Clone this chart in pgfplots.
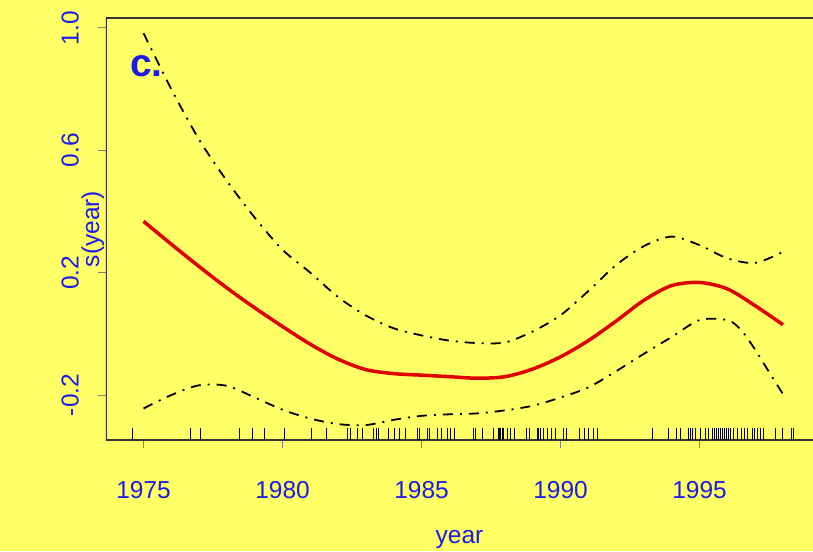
\documentclass[border=0pt]{standalone}
\usepackage{pgfplots}
\pgfplotsset{compat=1.18}
\usepackage{fontspec}
\setmainfont{Liberation Sans}
\definecolor{bgyel}{RGB}{255,255,102}
\definecolor{tblue}{RGB}{28,28,232}
\definecolor{cred}{RGB}{225,0,0}
\begin{document}
\begin{tikzpicture}
\fill[bgyel] (-106pt,-111pt) rectangle (707pt,440pt);
\path[use as bounding box] (-106pt,-111pt) rectangle (707pt,440pt);
\begin{axis}[
  at={(0,0)}, anchor=south west,
  scale only axis, width=707pt, height=422pt,
  xmin=1973.65, xmax=1999.08, ymin=-0.347, ymax=1.0327,
  axis line style={draw=none},
  xtick={1975,1980,1985,1990,1995},
  xticklabels={1975,1980,1985,1990,1995},
  ytick={-0.2,0.2,0.6,1.0},
  yticklabels={-0.2,0.2,0.6,1.0},
  tick pos=left,
  tick align=outside, major tick length=8pt,
  tick style={black!50, line width=1pt},
  ticklabel style={font=\fontsize{24.5}{28}\selectfont, text=tblue},
  yticklabel style={rotate=90, anchor=south, inner sep=0pt},
  yticklabel shift=19pt,
  xticklabel style={anchor=north, inner sep=0pt},
  xticklabel shift=33pt,
  xlabel={year},
  xlabel style={at={(rel axis cs:0.5,0)}, anchor=base, yshift=-103pt, font=\fontsize{24.5}{28}\selectfont, text=tblue},
  ylabel={s(year)},
  ylabel style={at={(rel axis cs:0,0.5)}, anchor=south, inner sep=1.5pt, font=\fontsize{24.5}{28}\selectfont, text=tblue},
]
\draw[black!80, line width=1.6pt] (rel axis cs:1,1) -- (rel axis cs:0,1) -- (rel axis cs:0,0) -- (rel axis cs:1,0);
\node[anchor=base west, font=\bfseries\fontsize{39}{40}\selectfont, text=tblue, inner sep=0pt] at (axis cs:1974.51,0.84) {c.};

% upper confidence band
\addplot[black, line width=1.8pt, dash pattern=on 10pt off 7pt on 2pt off 7pt, smooth, tension=0.5] coordinates {
(1975,0.983) (1976,0.800) (1977,0.635) (1978,0.500) (1979,0.380) (1980,0.275)
(1981,0.200) (1982,0.120) (1983,0.060) (1984,0.018) (1985,-0.005) (1986,-0.022)
(1987,-0.030) (1988,-0.028) (1989,0.008) (1990,0.061) (1991,0.140) (1992,0.225)
(1993,0.287) (1994,0.318) (1995,0.290) (1996,0.247) (1997,0.232) (1998,0.268)
};
% lower confidence band
\addplot[black, line width=1.8pt, dash pattern=on 10pt off 7pt on 2pt off 7pt, smooth, tension=0.5] coordinates {
(1975,-0.244) (1976,-0.200) (1977,-0.168) (1978,-0.170) (1979,-0.208) (1980,-0.248)
(1981,-0.277) (1982,-0.295) (1983,-0.298) (1984,-0.281) (1985,-0.268) (1986,-0.263)
(1987,-0.260) (1988,-0.250) (1989,-0.235) (1990,-0.208) (1991,-0.175) (1992,-0.122)
(1993,-0.065) (1994,-0.010) (1995,0.045) (1996,0.045) (1996.5,0.012) (1997,-0.052) (1997.5,-0.125) (1998,-0.197)
};
% smooth term
\addplot[cred, line width=3.5pt, smooth, tension=0.5] coordinates {
(1975,0.368) (1976,0.293) (1977,0.220) (1978,0.150) (1979,0.085) (1980,0.024)
(1981,-0.034) (1982,-0.083) (1983,-0.117) (1984,-0.130) (1985,-0.135) (1986,-0.140)
(1987,-0.145) (1988,-0.140) (1989,-0.115) (1990,-0.075) (1991,-0.022) (1992,0.042)
(1993,0.110) (1994,0.158) (1995,0.168) (1996,0.147) (1997,0.092) (1998,0.030)
};
% rug
\addplot[only marks, mark=|, mark size=6.25pt, mark options={line width=0.8pt, black}] coordinates {
(1974.59,-0.327) (1976.70,-0.327) (1977.03,-0.327) (1978.44,-0.327) (1978.90,-0.327) (1979.33,-0.327)
(1980.05,-0.327) (1981.02,-0.327) (1981.56,-0.327) (1982.32,-0.327) (1982.43,-0.327) (1982.68,-0.327)
(1982.86,-0.327) (1983.26,-0.327) (1983.37,-0.327) (1983.44,-0.327) (1983.80,-0.327) (1984.01,-0.327)
(1984.19,-0.327) (1984.41,-0.327) (1984.84,-0.327) (1984.91,-0.327) (1985.20,-0.327) (1985.27,-0.327)
(1985.56,-0.327) (1985.70,-0.327) (1985.92,-0.327) (1986.03,-0.327) (1986.17,-0.327) (1986.85,-0.327)
(1986.92,-0.327) (1987.18,-0.327) (1987.57,-0.327) (1987.75,-0.327) (1987.80,-0.327) (1987.85,-0.327)
(1987.90,-0.327) (1987.93,-0.327) (1988.08,-0.327) (1988.18,-0.327) (1988.33,-0.327) (1988.76,-0.327)
(1988.87,-0.327) (1989.15,-0.327) (1989.19,-0.327) (1989.26,-0.327) (1989.37,-0.327) (1989.51,-0.327)
(1989.66,-0.327) (1989.80,-0.327) (1990.09,-0.327) (1990.20,-0.327) (1990.67,-0.327) (1990.85,-0.327)
(1990.99,-0.327) (1991.17,-0.327) (1991.31,-0.327) (1993.29,-0.327) (1993.87,-0.327) (1994.15,-0.327)
(1994.30,-0.327) (1994.59,-0.327) (1994.66,-0.327) (1994.73,-0.327) (1994.84,-0.327) (1995.02,-0.327)
(1995.20,-0.327) (1995.31,-0.327) (1995.45,-0.327) (1995.52,-0.327) (1995.60,-0.327) (1995.67,-0.327)
(1995.74,-0.327) (1995.81,-0.327) (1995.88,-0.327) (1995.96,-0.327) (1996.03,-0.327) (1996.10,-0.327)
(1996.21,-0.327) (1996.35,-0.327) (1996.50,-0.327) (1996.60,-0.327) (1996.71,-0.327) (1996.89,-0.327)
(1996.96,-0.327) (1997.07,-0.327) (1997.18,-0.327) (1997.28,-0.327) (1997.72,-0.327) (1997.97,-0.327)
(1998.29,-0.327) (1998.36,-0.327)
};
\end{axis}
\end{tikzpicture}
\end{document}
